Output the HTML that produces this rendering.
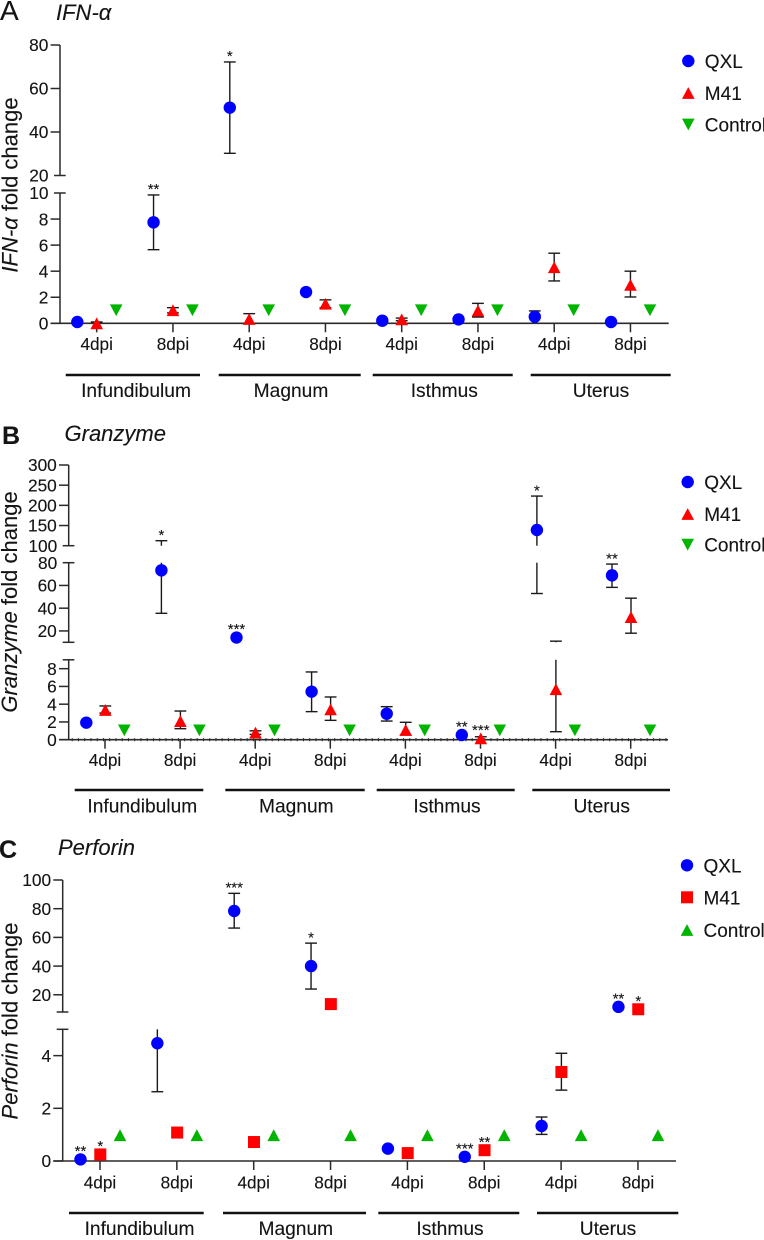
<!DOCTYPE html>
<html lang="en">
<head>
<meta charset="utf-8">
<title>IFN-α, Granzyme and Perforin fold change</title>
<style>
html,body{margin:0;padding:0;background:#fff;}
svg{display:block;font-family:"Liberation Sans",sans-serif;}
text{fill:#141414;stroke:#141414;stroke-width:0.12px;}
</style>
</head>
<body>
<svg id="figure" xmlns="http://www.w3.org/2000/svg" width="764" height="1240" viewBox="0 0 764 1240">
  <rect x="0" y="0" width="764" height="1240" fill="#fff"/>

  <text x="0" y="20" font-size="28">A</text>
  <text x="56" y="20" font-size="22" font-style="italic">IFN-α</text>
  <text transform="translate(17.5,185) rotate(-90)" text-anchor="middle" font-size="22"><tspan font-style="italic">IFN-α</tspan> fold change</text>

  <text x="2" y="444" font-size="25" font-weight="bold">B</text>
  <text x="64.5" y="441" font-size="22" font-style="italic">Granzyme</text>
  <text transform="translate(17,602) rotate(-90)" text-anchor="middle" font-size="22"><tspan font-style="italic">Granzyme</tspan> fold change</text>

  <text x="-1" y="858" font-size="25" font-weight="bold">C</text>
  <text x="58" y="855" font-size="22" font-style="italic">Perforin</text>
  <text transform="translate(17.5,1021) rotate(-90)" text-anchor="middle" font-size="22"><tspan font-style="italic">Perforin</tspan> fold change</text>
</svg>

<script>
// ---------- shared categories ----------
const tissues = ["Infundibulum", "Magnum", "Isthmus", "Uterus"];
const dpiLabels = ["4dpi", "8dpi", "4dpi", "8dpi", "4dpi", "8dpi", "4dpi", "8dpi"];
const legendNames = ["QXL", "M41", "Control"];

// ---------- panel A: IFN-alpha ----------
const ifnTopRange = [20, 80];
const ifnLowRange = [0, 10];
const ifnTopTicks = [20, 40, 60, 80];
const ifnLowTicks = [0, 2, 4, 6, 8, 10];
const ifnQxl = [0.1, 7.75, 51.2, 2.4, 0.2, 0.3, 0.5, 0.1];
const ifnQxlUp = [null, 9.85, 72.2, null, null, null, 0.95, null];
const ifnQxlLo = [null, 5.65, 30.2, null, null, null, null, null];
const ifnQxlStars = ["", "**", "*", "", "", "", "", ""];
const ifnM41 = [0, 1.0, 0.33, 1.5, 0.3, 0.97, 4.3, 2.95];
const ifnM41Up = [0.1, 1.2, 0.74, 1.8, 0.4, 1.53, 5.38, 4.0];
const ifnM41Lo = [null, 0.8, null, 1.2, 0.2, 0.48, 3.25, 2.02];
const ifnControl = [1, 1, 1, 1, 1, 1, 1, 1];

// ---------- panel B: Granzyme ----------
const gzmTopRange = [100, 300];
const gzmMidRange = [10, 80];
const gzmLowRange = [0, 9];
const gzmTopTicks = [100, 150, 200, 250, 300];
const gzmMidTicks = [20, 40, 60, 80];
const gzmLowTicks = [0, 2, 4, 6, 8];
const gzmQxl = [1.92, 73.3, 14.2, 5.41, 2.93, 0.53, 138.9, 68.9];
const gzmQxlUp = [null, 112.4, null, 7.63, 3.72, null, 223, 78.8];
const gzmQxlLo = [null, 35.5, null, 3.16, 2.1, null, 52.9, 58.3];
const gzmQxlStars = ["", "*", "***", "", "", "**", "*", "**"];
const gzmM41 = [3.35, 2.1, 0.8, 3.42, 1.1, 0.15, 5.68, 32.2];
const gzmM41Up = [3.8, 3.23, 1.0, 4.81, 1.96, 0.33, 11, 48.8];
const gzmM41Lo = [3.0, 1.24, 0.6, 2.18, 0.53, null, 0.9, 18];
const gzmM41Stars = ["", "", "", "", "", "***", "", ""];
const gzmControl = [1.05, 1.05, 1.05, 1.05, 1.05, 1.05, 1.05, 1.05];

// ---------- panel C: Perforin ----------
const prfTopRange = [8, 100];
const prfLowRange = [0, 5];
const prfTopTicks = [20, 40, 60, 80, 100];
const prfLowTicks = [0, 2, 4];
const prfQxl = [0.06, 4.47, 78.4, 40, 0.47, 0.16, 1.33, 11.6];
const prfQxlUp = [null, 6.31, 90.7, 56, null, null, 1.67, null];
const prfQxlLo = [null, 2.63, 66.5, 24, null, null, 1.01, null];
const prfQxlStars = ["**", "", "***", "*", "", "***", "", "**"];
const prfM41 = [0.25, 1.08, 0.72, 13.5, 0.3, 0.41, 3.38, 9.9];
const prfM41Up = [null, null, null, null, null, null, 4.09, null];
const prfM41Lo = [null, null, null, null, null, null, 2.69, null];
const prfM41Stars = ["*", "", "", "", "", "**", "", "*"];
const prfControl = [0.98, 0.98, 0.98, 0.98, 0.98, 0.98, 0.98, 0.98];

// ---------- drawing ----------
const BLUE = "#0000ff", RED = "#ff0000", GREEN = "#00b400";
const INK = "#2a2a2a";
const svg = document.getElementById("figure");

function mk(tag, attrs, parent, text) {
  const el = document.createElementNS("http://www.w3.org/2000/svg", tag);
  for (const k in attrs) el.setAttribute(k, attrs[k]);
  if (text !== undefined) el.textContent = text;
  parent.appendChild(el);
  return el;
}

function segLine(parent, x1, y1, x2, y2, width, color) {
  return mk("line", { x1, y1, x2, y2, stroke: color || INK, "stroke-width": width }, parent);
}

function marker(parent, shape, cx, cy, color) {
  if (shape === "circle") return mk("circle", { cx, cy, r: 6.2, fill: color }, parent);
  if (shape === "square") return mk("rect", { x: cx - 6, y: cy - 6, width: 12, height: 12, fill: color }, parent);
  const h = 5.9, w = 6.3;
  const pts = shape === "up"
    ? [[cx - w, cy + h], [cx + w, cy + h], [cx, cy - h]]
    : [[cx - w, cy - h], [cx + w, cy - h], [cx, cy + h]];
  return mk("polygon", { points: pts.map(p => p.join(",")).join(" "), fill: color }, parent);
}

function drawPanel(cfg) {
  const g = mk("g", {}, svg);
  
  

  const segs = cfg.segments;
  const interp = (s, v) => s.band[0] + (v - s.range[0]) / (s.range[1] - s.range[0]) * (s.band[1] - s.band[0]);
  const yScale = v => {
    for (const s of segs) if (v <= s.range[1]) return interp(s, v);
    return interp(segs[segs.length - 1], v);
  };
  const xScale = i => cfg.x0 + i * cfg.step;
  const zeroY = yScale(0);

  // y axis segments, break ticks and labelled ticks
  segs.forEach((s, si) => {
    const axisPart = segLine(g, cfg.axisX, s.band[1], cfg.axisX, s.band[0], 1.5);
    
    
    const breakEnds = [];
    if (si > 0) breakEnds.push(s.range[0]);
    if (si < segs.length - 1) breakEnds.push(s.range[1]);
    breakEnds.forEach(v => {
      const bt = segLine(g, cfg.axisX - 6, interp(s, v), cfg.axisX + 5.7, interp(s, v), 1.5);
      
      
    });
    s.ticks.forEach(v => {
      const ty = interp(s, v);
      if (!breakEnds.includes(v)) {
        const t = segLine(g, cfg.axisX - cfg.tickLen, ty, cfg.axisX, ty, 1.5);
        
        
      }
      const lx = cfg.axisX - (breakEnds.includes(v) ? 6 : cfg.tickLen) - (breakEnds.includes(v) ? cfg.labelGapBreak : 2.2);
      const lbl = mk("text", { x: lx, y: ty + 6.2, "text-anchor": "end", "font-size": 17.3 }, g, String(v));
      
      
    });
  });

  // x axis
  const xAxis = segLine(g, cfg.axisX - cfg.tickLen, zeroY, cfg.xEnd, zeroY, 1.6);
  
  
  if (cfg.minorTicks) {
    const minor = mk("line", { x1: cfg.axisX + 3, y1: zeroY, x2: cfg.xEnd - 1, y2: zeroY, stroke: INK, "stroke-width": 3.2, "stroke-dasharray": "1 5.25" }, g);
    
    
  }
  dpiLabels.forEach((lab, i) => {
    const t = segLine(g, xScale(i), zeroY, xScale(i), zeroY + 9, 1.5);
    
    
    const l = mk("text", { x: xScale(i), y: cfg.dpiY, "text-anchor": "middle", "font-size": 17.2 }, g, lab);
    
    
  });

  // tissue group brackets
  tissues.forEach((name, i) => {
    const b = segLine(g, cfg.spans[i][0], cfg.barY, cfg.spans[i][1], cfg.barY, 2.6, "#111");
    
    
    const l = mk("text", { x: cfg.groupX[i], y: cfg.groupY, "text-anchor": "middle", "font-size": 19.2 }, g, name);
    
    
  });

  // series
  cfg.series.forEach(sr => {
    const sg = mk("g", {}, g);
    
    
    sr.values.forEach((v, i) => {
      const cx = xScale(i) + sr.offset;
      const up = sr.up ? sr.up[i] : null;
      const lo = sr.lo ? sr.lo[i] : null;
      if (up !== null || lo !== null) {
        const top = up === null ? v : up;
        const bot = lo === null ? v : lo;
        segs.forEach(s => {
          const a = Math.max(bot, s.range[0]);
          const b = Math.min(top, s.range[1]);
          if (a < b) {
            const stem = segLine(sg, cx, interp(s, a), cx, interp(s, b), 1.4, "#1a1a1a");
            
            
          }
          [[up, top], [lo, bot]].forEach(pair => {
            if (pair[0] !== null && pair[1] >= s.range[0] && pair[1] <= s.range[1]) {
              const cy = interp(s, pair[1]);
              const cap = segLine(sg, cx - 5.9, cy, cx + 5.9, cy, 1.4, "#1a1a1a");
              
              
            }
          });
        });
      }
      const cy = yScale(v);
      const m = marker(sg, sr.shape, cx, cy, sr.color);
      
      
      const star = sr.stars ? sr.stars[i] : "";
      if (star) {
        let sy = cy - 12;
        if (up !== null) sy = Math.min(sy, yScale(up) - 9.5);
        const st = mk("text", { x: cx, y: sy + 8.7, "text-anchor": "middle", "font-size": 15 }, sg, star);
        
        
      }
    });
  });

  // legend
  const lg = mk("g", {}, g);
  
  
  cfg.series.forEach((sr, i) => {
    const ly = cfg.legendY[i];
    const m = marker(lg, sr.shape, cfg.legendX, ly, sr.color);
    
    
    const t = mk("text", { x: cfg.legendX + 16.5, y: ly + 7, "font-size": 19 }, lg, legendNames[i]);
    
    
  });
}

drawPanel({
  id: "ifn", axisX: 60, tickLen: 9.4, labelGapBreak: 5.5, x0: 96.7, step: 76.25, xEnd: 668.7,
  dpiY: 350, barY: 375, groupY: 397,
  spans: [[65.7, 200], [218.7, 360.7], [372.7, 512.7], [530.7, 670.7]],
  groupX: [136, 291, 444.3, 601],
  legendX: 688.3, legendY: [61, 93, 124.5],
  segments: [
    { range: ifnLowRange, band: [323.3, 193], ticks: ifnLowTicks },
    { range: ifnTopRange, band: [175.5, 45], ticks: ifnTopTicks }
  ],
  series: [
    { name: "QXL", shape: "circle", color: BLUE, offset: -19.4, values: ifnQxl, up: ifnQxlUp, lo: ifnQxlLo, stars: ifnQxlStars },
    { name: "M41", shape: "up", color: RED, offset: 0, values: ifnM41, up: ifnM41Up, lo: ifnM41Lo },
    { name: "Control", shape: "down", color: GREEN, offset: 19.5, values: ifnControl }
  ]
});

drawPanel({
  id: "granzyme", axisX: 68.7, tickLen: 9.7, labelGapBreak: 5.5, x0: 105, step: 75.1, xEnd: 668,
  minorTicks: true,
  dpiY: 766, barY: 790, groupY: 812.7,
  spans: [[74.7, 203.3], [225.3, 364.7], [376.7, 514.7], [532.3, 670]],
  groupX: [142.3, 296.3, 447, 601.7],
  legendX: 687.7, legendY: [482, 514, 544.7],
  segments: [
    { range: gzmLowRange, band: [739.7, 659.8], ticks: gzmLowTicks },
    { range: gzmMidRange, band: [642.3, 562.7], ticks: gzmMidTicks },
    { range: gzmTopRange, band: [545.7, 465], ticks: gzmTopTicks }
  ],
  series: [
    { name: "QXL", shape: "circle", color: BLUE, offset: -18.7, values: gzmQxl, up: gzmQxlUp, lo: gzmQxlLo, stars: gzmQxlStars },
    { name: "M41", shape: "up", color: RED, offset: 0.3, values: gzmM41, up: gzmM41Up, lo: gzmM41Lo, stars: gzmM41Stars },
    { name: "Control", shape: "down", color: GREEN, offset: 19.3, values: gzmControl }
  ]
});

drawPanel({
  id: "perforin", axisX: 62.7, tickLen: 9.4, labelGapBreak: 5.5, x0: 100, step: 76.85, xEnd: 676,
  dpiY: 1188.3, barY: 1213, groupY: 1235,
  spans: [[69, 203.7], [223, 366], [378.3, 519.3], [537, 678.3]],
  groupX: [139.5, 295.8, 450, 608],
  legendX: 687, legendY: [865.3, 897.3, 930],
  segments: [
    { range: prfLowRange, band: [1161, 1029.3], ticks: prfLowTicks },
    { range: prfTopRange, band: [1012, 880], ticks: prfTopTicks }
  ],
  series: [
    { name: "QXL", shape: "circle", color: BLUE, offset: -19.5, values: prfQxl, up: prfQxlUp, lo: prfQxlLo, stars: prfQxlStars },
    { name: "M41", shape: "square", color: RED, offset: 0.3, values: prfM41, up: prfM41Up, lo: prfM41Lo, stars: prfM41Stars },
    { name: "Control", shape: "up", color: GREEN, offset: 20, values: prfControl }
  ]
});
</script>
</body>
</html>
